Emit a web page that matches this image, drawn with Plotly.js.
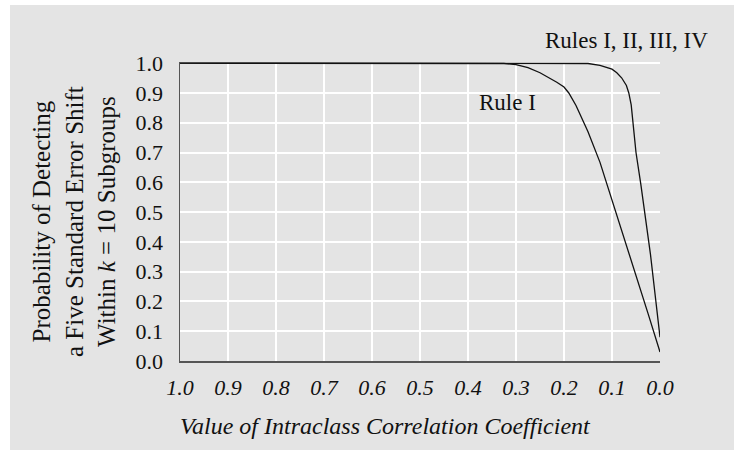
<!DOCTYPE html>
<html><head><meta charset="utf-8">
<script src="https://cdn.plot.ly/plotly-3.0.1.min.js"></script>
<style>body{margin:0;background:#fff;}</style>
</head><body>
<div id="chart" style="width:734px;height:450px;"></div>
<script>
// Rule I
const rhoRuleI = [1.0, 0.9, 0.8, 0.7, 0.6, 0.5, 0.4, 0.35, 0.325, 0.3, 0.285, 0.275, 0.25, 0.225, 0.215, 0.2, 0.19, 0.175, 0.16, 0.15, 0.125, 0.1, 0.075, 0.05, 0.025, 0.0];
const probRuleI = [1.0, 1.0, 1.0, 1.0, 1.0, 1.0, 1.0, 1.0, 0.999, 0.995, 0.99, 0.985, 0.968, 0.946, 0.936, 0.92, 0.9, 0.858, 0.805, 0.77, 0.667, 0.54, 0.42, 0.29, 0.16, 0.03];
// Rules I, II, III, IV
const rhoRulesAll = [1.0, 0.9, 0.8, 0.7, 0.6, 0.5, 0.4, 0.3, 0.2, 0.175, 0.15, 0.125, 0.11, 0.1, 0.09, 0.08, 0.07, 0.065, 0.06, 0.055, 0.05, 0.04, 0.03, 0.02, 0.01, 0.0];
const probRulesAll = [1.0, 1.0, 1.0, 1.0, 1.0, 1.0, 1.0, 1.0, 1.0, 1.0, 0.999, 0.993, 0.986, 0.98, 0.968, 0.951, 0.925, 0.9, 0.86, 0.785, 0.70, 0.594, 0.48, 0.36, 0.22, 0.08];
const xTicks = [1.0, 0.9, 0.8, 0.7, 0.6, 0.5, 0.4, 0.3, 0.2, 0.1, 0.0];
const yTicks = [0.0, 0.1, 0.2, 0.3, 0.4, 0.5, 0.6, 0.7, 0.8, 0.9, 1.0];
const labelRulesAll = "Rules I, II, III, IV";
const labelRuleI = "Rule I";
const yTitle = "Probability of Detecting<br>a Five Standard Error Shift<br>Within <i>k</i> = 10 Subgroups";
const xTitle = "Value of Intraclass Correlation Coefficient";

const FONT = "'Liberation Serif', 'Times New Roman', serif";
const lineStyle = {color: '#111', width: 1.3};

const traces = [
  {x: rhoRuleI, y: probRuleI, type: 'scatter', mode: 'lines', line: lineStyle, hoverinfo: 'skip'},
  {x: rhoRulesAll, y: probRulesAll, type: 'scatter', mode: 'lines', line: lineStyle, hoverinfo: 'skip'}
];

const layout = {
  width: 734, height: 450,
  margin: {l: 180, r: 74, t: 62, b: 89},
  paper_bgcolor: '#ffffff',
  plot_bgcolor: '#e4e4e4',
  showlegend: false,
  font: {family: FONT, color: '#111'},
  xaxis: {
    range: [1.0, 0.0], tickvals: xTicks, tickformat: '.1f',
    showgrid: true, gridcolor: '#ffffff', gridwidth: 2,
    showline: true, linecolor: '#555', linewidth: 1.5,
    zeroline: false, ticks: '', ticklabelstandoff: 6,
    tickfont: {family: FONT, size: 22, style: 'italic', color: '#111'}
  },
  yaxis: {
    range: [0, 1.004], tickvals: yTicks, tickformat: '.1f',
    showgrid: true, gridcolor: '#ffffff', gridwidth: 2,
    showline: true, linecolor: '#555', linewidth: 1.5,
    zeroline: false, ticks: '', ticklabelstandoff: 11,
    tickfont: {family: FONT, size: 22, color: '#111'}
  },
  shapes: [{
    type: 'rect', xref: 'paper', yref: 'paper', layer: 'below',
    x0: (10 - 180) / 480, x1: 1.3, y0: -0.4, y1: (361 - 5) / 299,
    fillcolor: '#e4e4e4', line: {width: 0}
  }],
  annotations: [
    {text: labelRulesAll, xref: 'paper', yref: 'paper', x: (543 - 180) / 480, y: (361 - 40) / 299,
     xanchor: 'left', yanchor: 'middle', showarrow: false, font: {family: FONT, size: 23, color: '#111'}},
    {text: labelRuleI, xref: 'paper', yref: 'paper', x: (477 - 180) / 480, y: (361 - 102) / 299,
     xanchor: 'left', yanchor: 'middle', showarrow: false, font: {family: FONT, size: 23, color: '#111'}},
    {text: yTitle, xref: 'paper', yref: 'paper', x: (74 - 180) / 480, y: (361 - 222) / 299,
     xanchor: 'center', yanchor: 'middle', textangle: -90, showarrow: false,
     font: {family: FONT, size: 25, color: '#111'}},
    {text: xTitle, xref: 'paper', yref: 'paper', x: (385.5 - 180) / 480, y: (361 - 426) / 299,
     xanchor: 'center', yanchor: 'middle', showarrow: false,
     font: {family: FONT, size: 24, style: 'italic', color: '#111'}}
  ]
};

Plotly.newPlot('chart', traces, layout, {staticPlot: true, displayModeBar: false});
</script>
</body></html>
